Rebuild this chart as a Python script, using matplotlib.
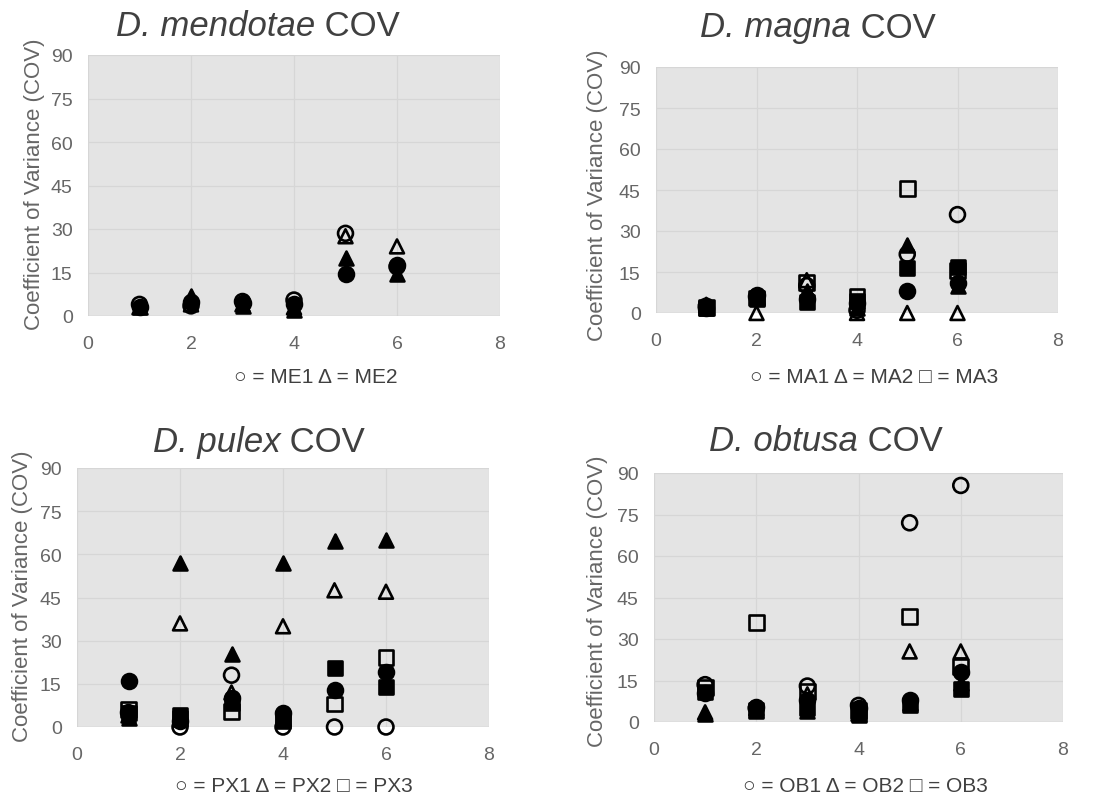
import numpy as np
import matplotlib
matplotlib.use("Agg")
import matplotlib.pyplot as plt

plt.rcParams['font.family'] = ['Liberation Sans', 'DejaVu Sans']

# x positions shared by all panels
days = [1, 2, 3, 4, 5, 6]

# D. mendotae (circle = ME1, triangle = ME2), open / filled
me_open_circle = [4, 3.5, 5, 5.5, 28.5, 17]
me_fill_circle = [3, 5, 4.5, 4, 14.5, 17.5]
me_open_tri = [3, 4, 4, 3, 27.5, 24]
me_fill_tri = [3, 7, 3.5, 2, 20, 14.5]

# D. magna
ma_open_circle = [2.5, 6, 10, 1, 21.5, 36]
ma_fill_circle = [2, 6.5, 5, 3.5, 8, 11]
ma_open_tri = [3, 0, 12, 0, 0, 0]
ma_fill_tri = [3, 6, 8, 2, 25, 10]
ma_open_sq = [2, 5.5, 11, 6, 45.5, 15.5]
ma_fill_sq = [2, 5, 4, 4.5, 16.5, 17]

# D. pulex
px_open_circle = [5, 0, 18, 0, 0, 0]
px_fill_circle = [16, 2, 10, 5, 13, 19]
px_open_tri = [4, 36, 12, 35, 47.5, 47]
px_fill_tri = [3, 57, 25.5, 57, 64.5, 65]
px_open_sq = [6, 3, 5.5, 3, 8, 24]
px_fill_sq = [5, 4, 8.5, 2, 20.5, 14]

# D. obtusa
ob_open_circle = [13.5, 5, 13, 6, 72, 85.5]
ob_fill_circle = [10.5, 5.5, 8, 5, 8, 18]
ob_open_tri = [3.5, 5, 10, 3, 25.5, 25.5]
ob_fill_tri = [3, 4, 4, 2.5, 7, 14]
ob_open_sq = [12.5, 36, 11, 4, 38, 20]
ob_fill_sq = [11, 4.5, 5, 3, 6, 12]

panels = [
    dict(name='D. mendotae', legend='○ = ME1 Δ = ME2',
         series=[('o', False, me_open_circle), ('o', True, me_fill_circle),
                 ('^', False, me_open_tri), ('^', True, me_fill_tri)],
         box=(88, 56, 500, 317), title=(258, 27), ylab=(35, 184), leg=(316, 378)),
    dict(name='D. magna', legend='○ = MA1 Δ = MA2 □ = MA3',
         series=[('o', True, ma_fill_circle), ('^', True, ma_fill_tri), ('s', True, ma_fill_sq),
                 ('o', False, ma_open_circle), ('^', False, ma_open_tri), ('s', False, ma_open_sq)],
         box=(656, 68, 1058, 314), title=(818, 28), ylab=(597, 195), leg=(874, 378)),
    dict(name='D. pulex', legend='○ = PX1 Δ = PX2 □ = PX3',
         series=[('o', True, px_fill_circle), ('^', True, px_fill_tri), ('s', True, px_fill_sq),
                 ('o', False, px_open_circle), ('^', False, px_open_tri), ('s', False, px_open_sq)],
         box=(77, 469, 489, 728), title=(259, 443), ylab=(23, 596), leg=(294, 787)),
    dict(name='D. obtusa', legend='○ = OB1 Δ = OB2 □ = OB3',
         series=[('o', True, ob_fill_circle), ('^', True, ob_fill_tri), ('s', True, ob_fill_sq),
                 ('o', False, ob_open_circle), ('^', False, ob_open_tri), ('s', False, ob_open_sq)],
         box=(654, 474, 1063, 723), title=(826, 442), ylab=(597, 601), leg=(865, 787)),
]

W, H = 1101, 804
fig = plt.figure(figsize=(W / 100, H / 100), dpi=100)
renderer = fig.canvas.get_renderer()
grey = '#666666'

for p in panels:
    x0, y0, x1, y1 = p['box']
    ax = fig.add_axes([x0 / W, 1 - y1 / H, (x1 - x0) / W, (y1 - y0) / H])
    ax.set_facecolor('#e4e4e4')
    for s in ax.spines.values():
        s.set_visible(False)
    ax.set_xlim(0, 8)
    ax.set_ylim(0, 90)
    ax.set_xticks(range(0, 9, 2))
    ax.set_yticks(range(0, 91, 15))
    ax.grid(True, color='#d6d6d6', linewidth=0.9)
    ax.set_axisbelow(True)
    ax.tick_params(length=0, labelsize=14, labelcolor=grey)
    ax.tick_params(axis='y', pad=11)
    ax.tick_params(axis='x', pad=14)
    ax.axhline(0, color='#d0d0d0', linewidth=1)

    for marker, filled, vals in p['series']:
        ax.scatter(days, vals, marker=marker, s=115 if marker != '^' else 100,
                   facecolors='black' if filled else 'none',
                   edgecolors='black', linewidths=1.9, zorder=3, clip_on=False)

    # title: italic species name + regular "COV", centred as a whole
    tx, ty = p['title'][0] / W, 1 - p['title'][1] / H
    t1 = fig.text(tx, ty, p['name'], style='italic', ha='left', va='center',
                  fontsize=25, color='#404040')
    t2 = fig.text(tx, ty, ' COV', ha='left', va='center', fontsize=25, color='#404040')
    w1 = t1.get_window_extent(renderer).width / W
    w2 = t2.get_window_extent(renderer).width / W
    start = tx - (w1 + w2) / 2
    t1.set_x(start)
    t2.set_x(start + w1)

    fig.text(p['ylab'][0] / W, 1 - p['ylab'][1] / H, 'Coefficient of Variance (COV)',
             rotation=90, ha='center', va='center', fontsize=16, color=grey)
    fig.text(p['leg'][0] / W, 1 - p['leg'][1] / H, p['legend'],
             ha='center', va='center', fontsize=15, color='#404040')

fig.savefig('out.png', dpi=100)
